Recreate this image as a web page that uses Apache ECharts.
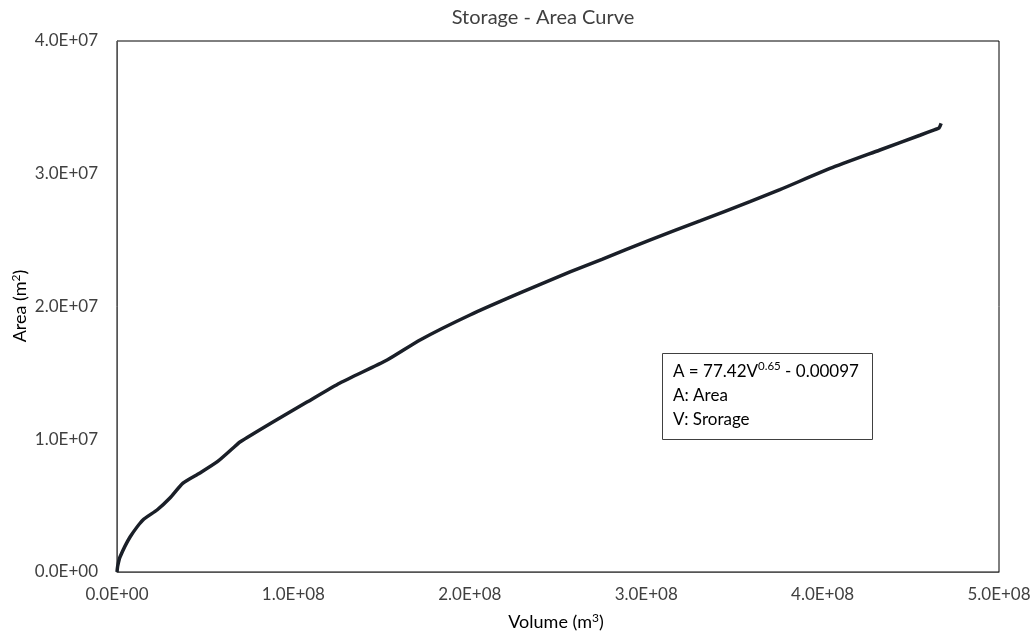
<!DOCTYPE html>
<html>
<head>
<meta charset="utf-8">
<script src="https://cdn.jsdelivr.net/npm/echarts@6/dist/echarts.min.js"></script>
<style>html,body{margin:0;padding:0;background:#fff;}#c{width:1031px;height:637px;}</style>
</head>
<body>
<div id="c"></div>
<script>
var volume = [0, 0.4e6, 1.7e6, 7.4e6, 1.47e7, 2.27e7, 3.0e7, 3.74e7, 4.7e7, 5.67e7, 6.58e7, 6.97e7, 8.84e7, 1.077e8, 1.264e8, 1.531e8, 1.718e8, 2.001e8, 2.285e8, 2.568e8, 2.749e8, 3.02e8, 3.305e8, 3.588e8, 3.758e8, 4.042e8, 4.325e8, 4.552e8, 4.637e8, 4.66e8, 4.672e8];
var area   = [0, 0.45e6, 1.13e6, 2.64e6, 3.92e6, 4.67e6, 5.57e6, 6.70e6, 7.46e6, 8.29e6, 9.34e6, 9.79e6, 1.13e7, 1.28e7, 1.424e7, 1.597e7, 1.748e7, 1.936e7, 2.102e7, 2.26e7, 2.355e7, 2.50e7, 2.645e7, 2.79e7, 2.88e7, 3.04e7, 3.179e7, 3.29e7, 3.333e7, 3.345e7, 3.38e7];
var xTicks = [0, 1e8, 2e8, 3e8, 4e8, 5e8];
var yTicks = [0, 1e7, 2e7, 3e7, 4e7];

function fmt(v) {
  if (v === 0) return '0.0E+00';
  var e = Math.floor(Math.log10(Math.abs(v)) + 1e-9);
  var m = v / Math.pow(10, e);
  var es = (e < 10 ? '0' : '') + e;
  return m.toFixed(1) + 'E+' + es;
}

var font = 'Lato, "Open Sans", sans-serif';
var chart = echarts.init(document.getElementById('c'), null, {renderer: 'canvas'});
var pts = volume.map(function (v, i) { return [v, area[i]]; });

chart.setOption({
  animation: false,
  backgroundColor: '#fff',
  title: {
    text: 'Storage - Area Curve',
    left: 538, top: 3, textAlign: 'center',
    textStyle: {fontFamily: font, fontSize: 20, fontWeight: 'normal', color: '#404040'}
  },
  grid: {left: 117, top: 41, right: 32, bottom: 65, show: true, borderColor: '#000', borderWidth: 1, backgroundColor: 'transparent', outerBoundsMode: 'none'},
  xAxis: {
    type: 'value', min: xTicks[0], max: xTicks[xTicks.length - 1], interval: 1e8,
    axisLine: {show: true, lineStyle: {color: '#555', width: 1}},
    axisTick: {show: false}, splitLine: {show: false},
    axisLabel: {formatter: fmt, fontFamily: font, fontSize: 17, color: '#404040', margin: 14}
  },
  yAxis: {
    type: 'value', min: yTicks[0], max: yTicks[yTicks.length - 1], interval: 1e7,
    axisLine: {show: true, lineStyle: {color: '#555', width: 1}},
    axisTick: {show: false}, splitLine: {show: false},
    axisLabel: {formatter: fmt, fontFamily: font, fontSize: 17, color: '#404040', margin: 19}
  },
  graphic: [
    {type: 'text', x: 556, y: 622, style: {
      text: '{a|Volume (m}{s|3}{a|)}', align: 'center', verticalAlign: 'middle',
      rich: {a: {fontFamily: font, fontSize: 18, color: '#404040'}, s: {fontFamily: font, fontSize: 12, color: '#404040', verticalAlign: 'top', padding: [0,0,8,0]}}
    }},
    {type: 'text', x: 20, y: 306, rotation: Math.PI / 2, style: {
      text: '{a|Area (m}{s|2}{a|)}', align: 'center', verticalAlign: 'middle',
      rich: {a: {fontFamily: font, fontSize: 18, color: '#404040'}, s: {fontFamily: font, fontSize: 12, color: '#404040', verticalAlign: 'top', padding: [0,0,8,0]}}
    }},
    {type: 'rect', shape: {x: 662.5, y: 353.5, width: 210, height: 86}, style: {fill: '#fff', stroke: '#404040', lineWidth: 1}, z: 10},
    {type: 'text', x: 673, y: 360, z: 11, style: {
      text: '{a|A = 77.42V}{s|0.65}{a| - 0.00097}\n{a|A: Area}\n{a|V: Srorage}',
      lineHeight: 24,
      rich: {a: {fontFamily: font, fontSize: 17, color: '#000', lineHeight: 24}, s: {fontFamily: font, fontSize: 11.5, color: '#000', verticalAlign: 'top', lineHeight: 24, padding: [0,0,9,0]}}
    }}
  ],
  series: [{
    type: 'line', data: pts, showSymbol: false, smooth: 0.2,
    lineStyle: {color: '#1a1f28', width: 3.5}, z: 5
  }]
});
</script>
</body>
</html>
